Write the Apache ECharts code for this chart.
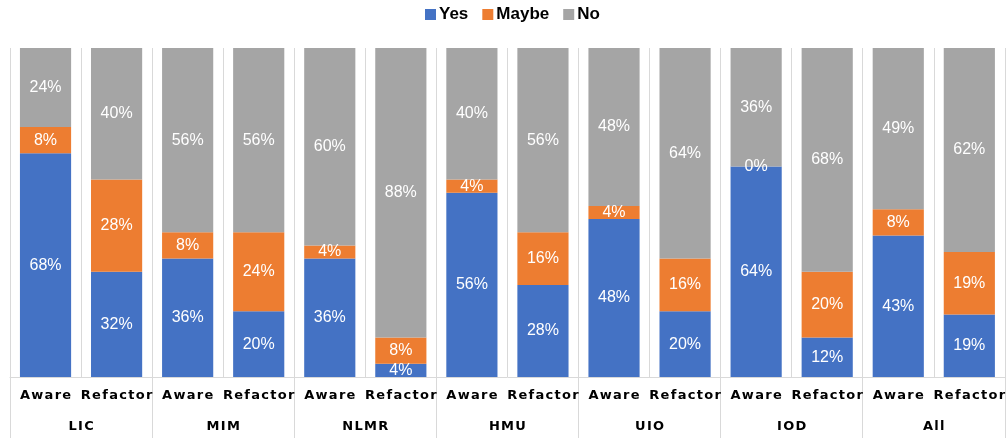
<!DOCTYPE html>
<html>
<head>
<meta charset="utf-8">
<script src="https://cdn.jsdelivr.net/npm/echarts@6/dist/echarts.min.js"></script>
<style>
  html, body { margin: 0; padding: 0; background: #fff; }
  #chart { width: 1008px; height: 440px; }
</style>
</head>
<body>
<div id="chart"></div>
<script>
// groups and the two bars inside each group
const groups = ['LIC', 'MIM', 'NLMR', 'HMU', 'UIO', 'IOD', 'All']
const kinds = ['Aware', 'Refactor']

// percentages, one value per bar (group order, Aware then Refactor)
const yesData = [68, 32, 36, 20, 36, 4, 56, 28, 48, 20, 64, 12, 43, 19]
const maybeData = [8, 28, 8, 24, 4, 8, 4, 16, 4, 16, 0, 20, 8, 19]
const noData = [24, 40, 56, 56, 60, 88, 40, 56, 48, 64, 36, 68, 49, 62]

const barCategories = []
groups.forEach(() => {
  kinds.forEach(k => barCategories.push(k))
})

// spread letters a bit, like the original axis text
const spaced = v => v.split('').join('\u200A')

const chart = echarts.init(document.getElementById('chart'))

const labelStyle = {
  show: true,
  position: 'inside',
  formatter: '{c}%',
  color: '#fff',
  fontSize: 16,
  fontFamily: 'Liberation Sans, Arial, sans-serif'
}

function makeSeries(name, data, color) {
  return {
    name: name,
    type: 'bar',
    stack: 'total',
    barCategoryGap: '28%',
    data: data,
    itemStyle: { color: color },
    label: labelStyle
  }
}

chart.setOption({
  animation: false,
  legend: {
    top: 6,
    left: 425,
    padding: 0,
    icon: 'rect',
    itemWidth: 11,
    itemHeight: 11,
    itemGap: 14,
    textStyle: {
      fontSize: 17,
      fontWeight: 'bold',
      color: '#000',
      fontFamily: 'Liberation Sans, Arial, sans-serif',
      padding: [0, 0, 0, -2]
    },
    data: ['Yes', 'Maybe', 'No']
  },
  grid: {
    top: 48,
    left: 10,
    right: 0,
    bottom: 63
  },
  xAxis: [{
    type: 'category',
    position: 'bottom',
    data: barCategories,
    axisLine: { lineStyle: { color: '#d9d9d9' } },
    axisTick: { show: false },
    splitLine: {
      show: true,
      interval: 0,
      lineStyle: { color: '#d9d9d9' }
    },
    axisLabel: {
      interval: 0,
      margin: 12,
      color: '#000',
      fontSize: 13,
      fontWeight: 'bold',
      fontFamily: 'DejaVu Sans, sans-serif',
      formatter: spaced
    }
  }, {
    type: 'category',
    position: 'bottom',
    data: groups,
    axisLine: { show: false },
    axisTick: {
      show: true,
      interval: 0,
      length: 61,
      lineStyle: { color: '#d9d9d9' }
    },
    splitLine: { show: false },
    axisLabel: {
      interval: 0,
      margin: 43,
      color: '#000',
      fontSize: 13,
      fontWeight: 'bold',
      fontFamily: 'DejaVu Sans, sans-serif',
      formatter: spaced
    }
  }],
  yAxis: {
    type: 'value',
    min: 0,
    max: 100,
    show: false,
    splitLine: { show: false }
  },
  series: [
    makeSeries('Yes', yesData, '#4472c4'),
    makeSeries('Maybe', maybeData, '#ed7d31'),
    makeSeries('No', noData, '#a5a5a5')
  ]
})
</script>
</body>
</html>
